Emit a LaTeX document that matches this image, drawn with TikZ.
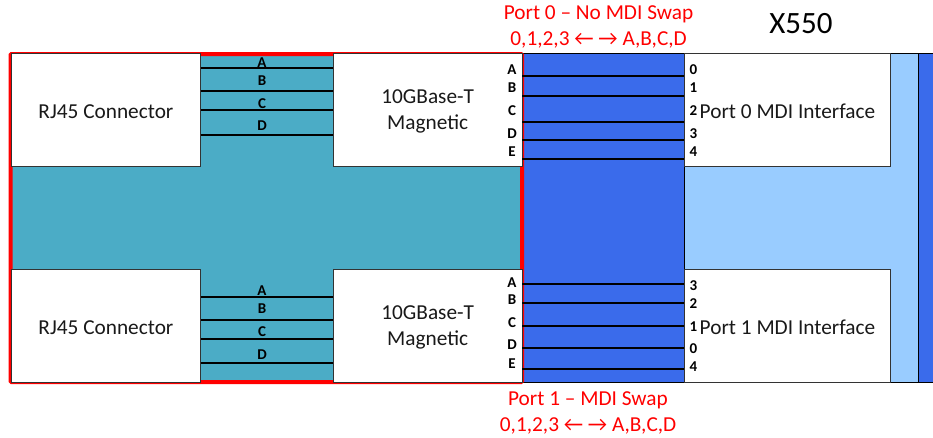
\documentclass[tikz,border=0pt]{standalone}
\usepackage{fontspec}
\setmainfont{Carlito}
\definecolor{teal1}{HTML}{4BACC6}
\definecolor{blue1}{HTML}{3A6BEB}
\definecolor{light1}{HTML}{99CCFF}
\definecolor{red1}{HTML}{FF0000}
\newcommand{\fs}[1]{\fontsize{#1}{#1}\selectfont}
\tikzset{
  whitebox/.style={draw=black!80,line width=0.9pt,fill=white,anchor=north west,inner sep=0pt},
  boxlab/.style={inner sep=0pt,align=center,font=\fs{21.3},text=black!90,yshift=-1.5pt},
  wire/.style={draw=black,line width=1.3pt},
  pin/.style={font=\fs{15}\bfseries,inner sep=0pt,text=black,yshift=-1pt},
  redlab/.style={font=\fs{21.3},text=red1,inner sep=0pt,yshift=-0.7pt},
}
\begin{document}
\begin{tikzpicture}[x=1pt,y=-1pt]
\useasboundingbox (0,0) rectangle (933,437);
% backgrounds
\fill[teal1] (11,53) rectangle (522,382);
\fill[blue1] (522,53) rectangle (684,382);
\fill[light1] (684,53) rectangle (918,382);
\fill[blue1] (918,53) rectangle (933,382);
\draw[black,line width=0.9pt] (522,53.5) -- (933,53.5);
\draw[black,line width=0.9pt] (522,382.5) -- (933,382.5);
\draw[black,line width=0.9pt] (918,53) -- (918,382);
\draw[black,line width=0.9pt] (684,53) -- (684,382);
% red outline
\draw[red1,line width=4pt,rounded corners=1pt] (10.5,54) rectangle (522,382);
% boxes
\node[whitebox,minimum width=189pt,minimum height=113pt,label={[boxlab]center:RJ45 Connector}] (rjt) at (11,53) {};
\node[whitebox,minimum width=189pt,minimum height=113pt,label={[boxlab]center:RJ45 Connector}] (rjb) at (11,269) {};
\node[whitebox,minimum width=188.5pt,minimum height=113pt,label={[boxlab]center:10GBase-T\\[5pt]Magnetic}] (magt) at (333,53) {};
\node[whitebox,minimum width=188.5pt,minimum height=113pt,label={[boxlab]center:10GBase-T\\[5pt]Magnetic}] (magb) at (333,269) {};
\node[whitebox,minimum width=206pt,minimum height=113pt,label={[boxlab]center:Port 0 MDI Interface}] (portt) at (684,53) {};
\node[whitebox,minimum width=206pt,minimum height=113pt,label={[boxlab]center:Port 1 MDI Interface}] (portb) at (684,269) {};
% RJ45 to magnetics wires
\foreach \y in {68,91,110,135} \draw[wire] (rjt.east |- 0,\y) -- (magt.west |- 0,\y);
\foreach \y in {297,320,339,363} \draw[wire] (rjb.east |- 0,\y) -- (magb.west |- 0,\y);
% magnetics to port wires
\foreach \y in {76,96,122,140,159} \draw[wire] (magt.east |- 0,\y) -- (portt.west |- 0,\y);
\foreach \y in {284,303,326,348,369} \draw[wire] (magb.east |- 0,\y) -- (portb.west |- 0,\y);
% labels
\foreach \t/\y in {A/62,B/80,C/103,D/125,A/290,B/308,C/331,D/354}
  \node[pin] (n\t\y) at (262,\y) {\t};
\foreach \t/\y in {A/69,B/87,C/110,D/133,E/151,A/282,B/299,C/322,D/344,E/363}
  \node[pin] (m\t\y) at (512,\y) {\t};
\foreach \t/\y in {0/69,1/87,2/110,3/133,4/151,3/285,2/303,1/326,0/348,4/366}
  \node[pin] (p\t\y) at (693.5,\y) {\t};
% titles
\node[redlab] (t0) at (598.5,14) {Port 0 – No MDI Swap};
\node[redlab] (t0b) at (598.5,39) {0,1,2,3 ← → A,B,C,D};
\node[redlab] (t1) at (588,400) {Port 1 – MDI Swap};
\node[redlab] (t1b) at (588,425) {0,1,2,3 ← → A,B,C,D};
\node[font=\fs{31},text=black,inner sep=0pt,yshift=-1pt] (x550) at (801,23) {X550};
\end{tikzpicture}
\end{document}
